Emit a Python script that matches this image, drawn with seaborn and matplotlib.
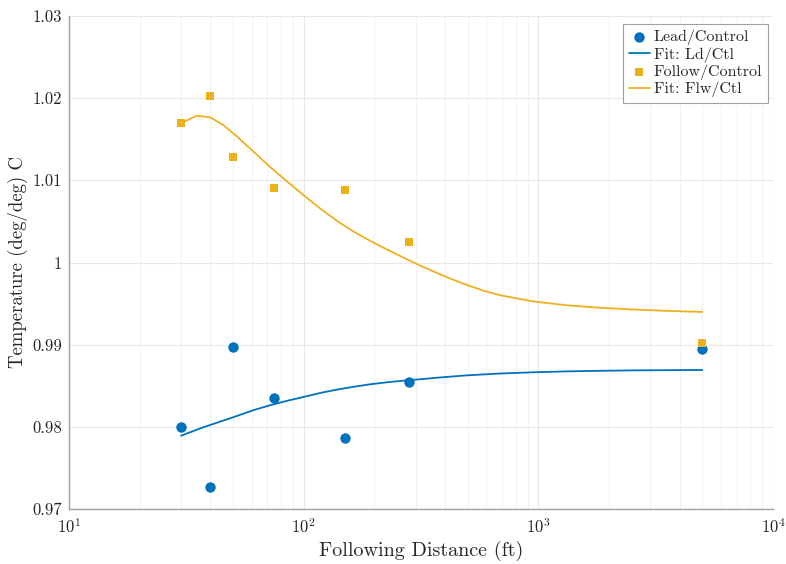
import numpy as np
import pandas as pd
import matplotlib
matplotlib.use("Agg")
import matplotlib.pyplot as plt
from matplotlib.ticker import FuncFormatter, LogLocator
import seaborn as sns

# Measured ratios at each following distance
distance_ft = [30, 40, 50, 75, 150, 280, 5000]
lead_control = [0.98002, 0.97264, 0.98975, 0.98347, 0.97861, 0.98546, 0.98944]
follow_control = [1.0170, 1.0203, 1.0128, 1.0091, 1.0088, 1.0025, 0.9902]

# Fitted curve for Follow/Control (sampled)
fit_x_follow = [30, 35, 40, 45.4, 52, 61, 72, 85, 100, 118, 139, 163, 192,
                226, 266, 314, 357, 421, 497, 583, 689, 952, 1326, 1838,
                2542, 3538, 5000]
fit_follow = [1.01694, 1.01787, 1.01767, 1.01673, 1.01534, 1.01351, 1.01162,
              1.00986, 1.00818, 1.00654, 1.00505, 1.00377, 1.00264, 1.00160,
              1.00060, 0.99962, 0.99892, 0.99805, 0.99726, 0.99658, 0.99601,
              0.99526, 0.99479, 0.99449, 0.99428, 0.99411, 0.99398]

# Fitted curve for Lead/Control (sampled)
fit_x_lead = [30, 37.4, 44.05, 51.9, 61.1, 72, 84.8, 100, 117.6, 138.5, 163.1,
              192.1, 226.3, 266.5, 313.9, 382.1, 498.1, 688.7, 952, 1330,
              1838, 2542, 3549, 5000]
fit_lead = [0.97892, 0.97995, 0.98063, 0.98132, 0.98203, 0.98263, 0.98316,
            0.98364, 0.98412, 0.98453, 0.98487, 0.98518, 0.98542, 0.98562,
            0.98579, 0.98601, 0.98627, 0.98649, 0.98664, 0.98675, 0.98682,
            0.98687, 0.98690, 0.98692]

y_ticks = [0.97, 0.98, 0.99, 1.0, 1.01, 1.02, 1.03]

BLUE = "#0072BD"
GOLD = "#EDB120"
TEXT = "#262626"
AXIS = "#a0a0a0"

sns.set_style("white")
plt.rcParams["font.family"] = ["cmr10", "DejaVu Serif"]
plt.rcParams["mathtext.fontset"] = "cm"
plt.rcParams["axes.formatter.use_mathtext"] = True

pts = pd.DataFrame({"dist": distance_ft, "lead": lead_control,
                    "follow": follow_control})
fit_f = pd.DataFrame({"dist": fit_x_follow, "val": fit_follow})
fit_l = pd.DataFrame({"dist": fit_x_lead, "val": fit_lead})

fig = plt.figure(figsize=(7.86, 5.64), dpi=100)
ax = fig.add_axes([69 / 786, 1 - 509 / 564, 704 / 786, 493 / 564])
ax.set_xscale("log")

sns.scatterplot(data=pts, x="dist", y="lead", ax=ax, color=BLUE, marker="o",
                s=56, linewidth=0, label="Lead/Control", zorder=3)
sns.lineplot(data=fit_l, x="dist", y="val", ax=ax, color=BLUE, lw=1.3,
             estimator=None, sort=False, label="Fit: Ld/Ctl", zorder=2)
sns.scatterplot(data=pts, x="dist", y="follow", ax=ax, color=GOLD, marker="s",
                s=34, linewidth=0, label="Follow/Control", zorder=3)
sns.lineplot(data=fit_f, x="dist", y="val", ax=ax, color=GOLD, lw=1.3,
             estimator=None, sort=False, label="Fit: Flw/Ctl", zorder=2)

ax.set_xlim(10, 1e4)
ax.set_ylim(0.97, 1.03)
ax.set_yticks(y_ticks)
ax.yaxis.set_major_formatter(FuncFormatter(lambda v, p: f"{v:g}"))
ax.xaxis.set_major_locator(LogLocator(base=10, numticks=10))
ax.xaxis.set_minor_locator(LogLocator(base=10, subs=np.arange(2, 10), numticks=30))

ax.grid(True, which="major", axis="both", color="#e8e8e8", lw=0.8)
ax.grid(True, which="minor", axis="x", color="#f1f1f1", lw=0.7)
ax.set_axisbelow(True)

for side in ("top", "right"):
    ax.spines[side].set_visible(False)
for side in ("left", "bottom"):
    ax.spines[side].set_color(AXIS)
    ax.spines[side].set_linewidth(1.0)

ax.tick_params(axis="both", which="both", direction="in", colors=AXIS,
               labelcolor=TEXT, labelsize=12)
ax.tick_params(which="major", length=5, width=0.8)
ax.tick_params(which="minor", length=3, width=0.6)
ax.tick_params(axis="x", pad=6)
ax.tick_params(axis="y", pad=5)

ax.set_xlabel("Following Distance (ft)", fontsize=14.5, color=TEXT, labelpad=3)
ax.set_ylabel("Temperature (deg/deg) C", fontsize=13.5, color=TEXT)
ax.yaxis.set_label_coords(-0.058, 0.5)

handles, labels = ax.get_legend_handles_labels()
order = ["Lead/Control", "Fit: Ld/Ctl", "Follow/Control", "Fit: Flw/Ctl"]
hmap = dict(zip(labels, handles))
leg = ax.legend([hmap[k] for k in order], order, loc="upper right",
                bbox_to_anchor=(0.997, 0.99), fontsize=11.5, frameon=True,
                fancybox=False, edgecolor=AXIS, framealpha=1,
                handlelength=1.3, handletextpad=0.25, borderpad=0.35,
                labelspacing=0.12, borderaxespad=0.2)
leg.get_frame().set_linewidth(0.8)

fig.savefig("out.png", dpi=100)
